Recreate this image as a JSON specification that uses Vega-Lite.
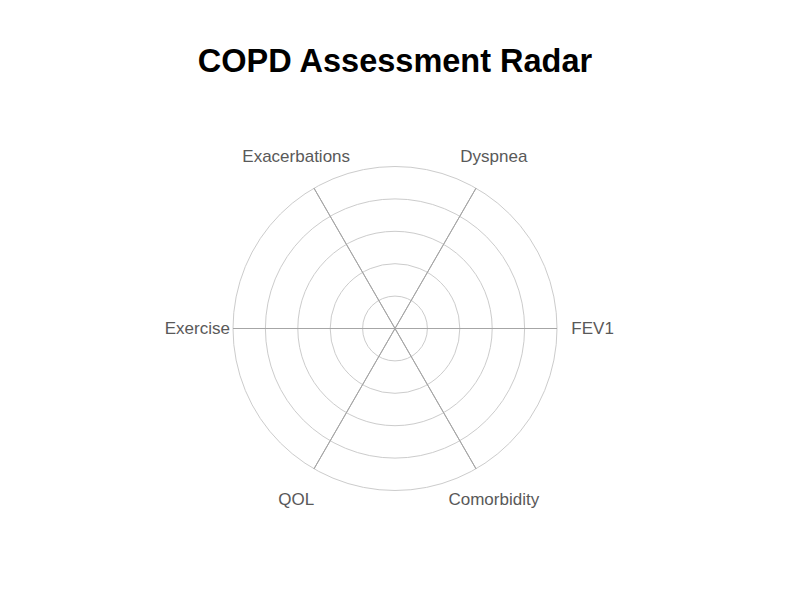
{
  "$schema": "https://vega.github.io/schema/vega-lite/v6.json",
  "width": 790,
  "height": 543,
  "autosize": "none",
  "padding": {"left": 0, "top": 57, "right": 10, "bottom": 0},
  "background": "white",
  "title": {
    "text": "COPD Assessment Radar",
    "fontSize": 32.5,
    "font": "Liberation Sans",
    "fontWeight": "bold",
    "color": "#000000",
    "anchor": "middle",
    "dy": 25
  },
  "config": {"view": {"stroke": null}},
  "datasets": {
    "rings": [{"level": 20}, {"level": 40}, {"level": 60}, {"level": 80}, {"level": 100}],
    "axes": [
      {"axis": "FEV1", "idx": 0},
      {"axis": "Dyspnea", "idx": 1},
      {"axis": "Exacerbations", "idx": 2},
      {"axis": "Exercise", "idx": 3},
      {"axis": "QOL", "idx": 4},
      {"axis": "Comorbidity", "idx": 5}
    ]
  },
  "layer": [
    {
      "data": {"name": "rings"},
      "mark": {"type": "arc", "filled": false, "stroke": "#cccccc", "strokeWidth": 1, "theta": 0, "theta2": 6.2832},
      "encoding": {
        "radius": {"field": "level", "type": "quantitative", "stack": null, "scale": {"type": "linear", "domain": [0, 100], "range": [0, 162], "zero": true}}
      }
    },
    {
      "data": {"name": "axes"},
      "mark": {"type": "arc", "filled": false, "stroke": "#a6a6a6", "strokeWidth": 1},
      "encoding": {
        "theta": {"field": "idx", "type": "quantitative", "stack": null, "scale": {"type": "linear", "domain": [0, 6], "range": [1.5708, -4.7124]}},
        "theta2": {"field": "idx"},
        "radius": {"datum": 100},
        "radius2": {"datum": 0}
      }
    },
    {
      "data": {"name": "axes"},
      "mark": {"type": "text", "fontSize": 17, "font": "Liberation Sans", "color": "#595959"},
      "encoding": {
        "theta": {"field": "idx", "type": "quantitative", "stack": null},
        "radius": {"datum": 122},
        "text": {"field": "axis"}
      }
    }
  ]
}
